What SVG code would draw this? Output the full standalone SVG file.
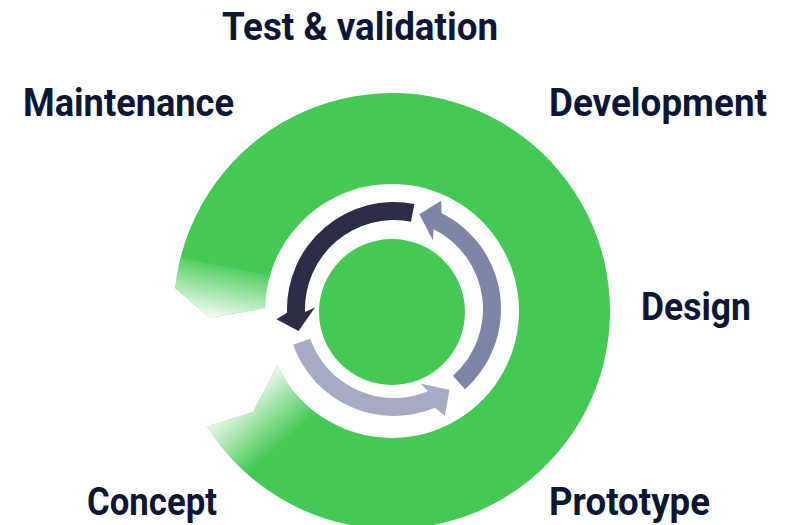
<svg xmlns="http://www.w3.org/2000/svg" width="791" height="525" viewBox="0 0 791 525">
  <style>
    .label { font-family: Roboto, "Open Sans", "DejaVu Sans", sans-serif; font-weight: 700; font-size: 38px; fill: #0d1634; }
    .green { fill: #43c954; }
  </style>
  <defs>
    <!-- outer ring: notched tail at lower left, pointed head at left -->
    <path id="ringShape" d="M 207.1,426.5 A 218 218 0 1 0 175.2,288.2 L 210.1,318 L 265.0,308.1 A 127 127 0 1 1 277.3,365.5 L 252.9,412.1 Z"/>
    <clipPath id="ringClip">
      <use href="#ringShape"/>
    </clipPath>
    <linearGradient id="fadeHead" gradientUnits="userSpaceOnUse" x1="223" y1="266" x2="212" y2="320">
      <stop offset="0" stop-color="#ffffff" stop-opacity="0"/>
      <stop offset="0.01" stop-color="#ffffff" stop-opacity="0.1"/>
      <stop offset="1" stop-color="#ffffff" stop-opacity="0.97"/>
    </linearGradient>
    <linearGradient id="fadeTail" gradientUnits="userSpaceOnUse" x1="236" y1="396" x2="280" y2="446">
      <stop offset="0" stop-color="#ffffff" stop-opacity="0.95"/>
      <stop offset="1" stop-color="#ffffff" stop-opacity="0"/>
    </linearGradient>
  </defs>

  <g id="ring">
    <use href="#ringShape" class="green"/>
    <g clip-path="url(#ringClip)">
      <rect x="150" y="240" width="140" height="95" fill="url(#fadeHead)"/>
      <rect x="180" y="350" width="140" height="125" fill="url(#fadeTail)"/>
    </g>
  </g>

  <g id="hub">
    <circle cx="392" cy="312" r="73" class="green"/>
  </g>

  <!-- circular arrows around the hub -->
  <g id="connectors">
    <path id="arrow-dark" fill="#2a2d45" d="M 414.42,203.97 A 107 107 0 0 0 287.07,312.73 L 276.45,319.28 L 298.51,331.05 L 315.01,307.62 L 305.05,312.11 A 89 89 0 0 1 410.98,221.63 Z"/>
    <path id="arrow-mid" fill="#7e85a7" d="M 464.90,389.14 A 107 107 0 0 0 441.74,213.24 L 441.05,200.79 L 419.36,214.34 L 432.90,240.24 L 433.71,229.35 A 89 89 0 0 1 452.97,375.66 Z"/>
    <path id="arrow-light" fill="#a5aac5" d="M 293.14,344.72 A 107 107 0 0 0 434.95,407.86 L 444.80,415.51 L 449.51,389.76 L 420.37,383.47 L 428.06,391.23 A 89 89 0 0 1 310.11,338.71 Z"/>
  </g>

  <g id="test-validation"><text class="label" x="222" y="40" textLength="276" lengthAdjust="spacingAndGlyphs">Test &amp; validation</text></g>
  <g id="maintenance"><text class="label" x="23" y="116" textLength="211" lengthAdjust="spacingAndGlyphs">Maintenance</text></g>
  <g id="development"><text class="label" x="549" y="116" textLength="218" lengthAdjust="spacingAndGlyphs">Development</text></g>
  <g id="design"><text class="label" x="641" y="320" textLength="110" lengthAdjust="spacingAndGlyphs">Design</text></g>
  <g id="concept"><text class="label" x="87" y="515" textLength="130" lengthAdjust="spacingAndGlyphs">Concept</text></g>
  <g id="prototype"><text class="label" x="549" y="515" textLength="161" lengthAdjust="spacingAndGlyphs">Prototype</text></g>
</svg>
